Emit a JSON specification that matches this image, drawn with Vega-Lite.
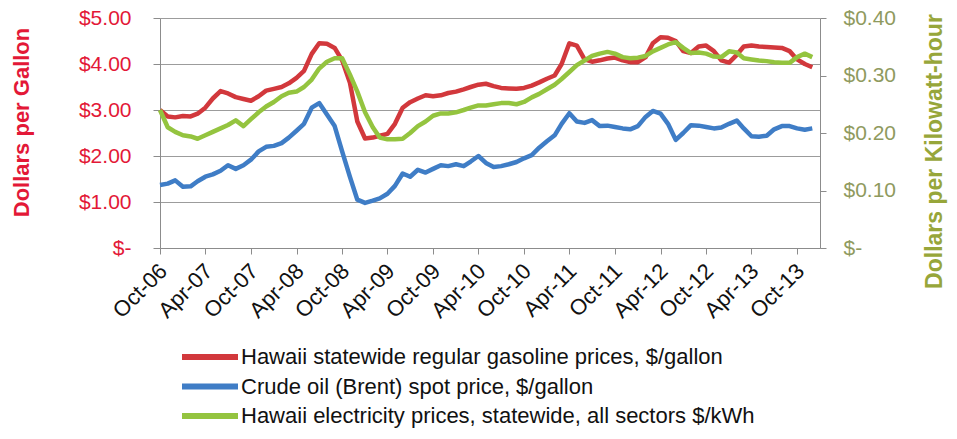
{
"$schema": "https://vega.github.io/schema/vega-lite/v6.json",
"width": 660, "height": 230,
"autosize": {"type": "none"},
"padding": {"left": 160, "top": 18, "right": 137, "bottom": 191},
"background": "white",
"config": {"view": {"stroke": null}, "font": "Liberation Sans"},
"data": {"format": {"parse": {"d": "date:'%Y-%m'"}}, "values": [
{"d":"2006-10","g":3.00,"c":1.37,"e":0.240},
{"d":"2006-11","g":2.86,"c":1.40,"e":0.210},
{"d":"2006-12","g":2.84,"c":1.47,"e":0.202},
{"d":"2007-01","g":2.87,"c":1.33,"e":0.196},
{"d":"2007-02","g":2.86,"c":1.34,"e":0.194},
{"d":"2007-03","g":2.92,"c":1.45,"e":0.190},
{"d":"2007-04","g":3.05,"c":1.55,"e":0.196},
{"d":"2007-05","g":3.25,"c":1.60,"e":0.202},
{"d":"2007-06","g":3.41,"c":1.68,"e":0.208},
{"d":"2007-07","g":3.36,"c":1.80,"e":0.214},
{"d":"2007-08","g":3.28,"c":1.72,"e":0.222},
{"d":"2007-09","g":3.24,"c":1.80,"e":0.212},
{"d":"2007-10","g":3.20,"c":1.92,"e":0.224},
{"d":"2007-11","g":3.30,"c":2.10,"e":0.236},
{"d":"2007-12","g":3.42,"c":2.20,"e":0.246},
{"d":"2008-01","g":3.46,"c":2.22,"e":0.254},
{"d":"2008-02","g":3.50,"c":2.28,"e":0.264},
{"d":"2008-03","g":3.58,"c":2.40,"e":0.270},
{"d":"2008-04","g":3.70,"c":2.55,"e":0.272},
{"d":"2008-05","g":3.85,"c":2.70,"e":0.280},
{"d":"2008-06","g":4.22,"c":3.05,"e":0.293},
{"d":"2008-07","g":4.45,"c":3.15,"e":0.312},
{"d":"2008-08","g":4.44,"c":2.90,"e":0.324},
{"d":"2008-09","g":4.35,"c":2.65,"e":0.330},
{"d":"2008-10","g":4.08,"c":2.10,"e":0.330},
{"d":"2008-11","g":3.60,"c":1.55,"e":0.302},
{"d":"2008-12","g":2.75,"c":1.05,"e":0.272},
{"d":"2009-01","g":2.38,"c":0.98,"e":0.236},
{"d":"2009-02","g":2.40,"c":1.03,"e":0.210},
{"d":"2009-03","g":2.44,"c":1.08,"e":0.192},
{"d":"2009-04","g":2.48,"c":1.18,"e":0.189},
{"d":"2009-05","g":2.70,"c":1.35,"e":0.189},
{"d":"2009-06","g":3.05,"c":1.62,"e":0.190},
{"d":"2009-07","g":3.17,"c":1.55,"e":0.200},
{"d":"2009-08","g":3.25,"c":1.70,"e":0.212},
{"d":"2009-09","g":3.32,"c":1.64,"e":0.220},
{"d":"2009-10","g":3.30,"c":1.72,"e":0.230},
{"d":"2009-11","g":3.32,"c":1.80,"e":0.234},
{"d":"2009-12","g":3.37,"c":1.78,"e":0.234},
{"d":"2010-01","g":3.40,"c":1.82,"e":0.236},
{"d":"2010-02","g":3.45,"c":1.78,"e":0.240},
{"d":"2010-03","g":3.50,"c":1.88,"e":0.244},
{"d":"2010-04","g":3.55,"c":2.00,"e":0.248},
{"d":"2010-05","g":3.57,"c":1.85,"e":0.248},
{"d":"2010-06","g":3.52,"c":1.76,"e":0.250},
{"d":"2010-07","g":3.48,"c":1.78,"e":0.252},
{"d":"2010-08","g":3.47,"c":1.82,"e":0.252},
{"d":"2010-09","g":3.46,"c":1.87,"e":0.250},
{"d":"2010-10","g":3.48,"c":1.95,"e":0.254},
{"d":"2010-11","g":3.53,"c":2.02,"e":0.262},
{"d":"2010-12","g":3.60,"c":2.18,"e":0.268},
{"d":"2011-01","g":3.68,"c":2.32,"e":0.276},
{"d":"2011-02","g":3.75,"c":2.45,"e":0.284},
{"d":"2011-03","g":4.00,"c":2.70,"e":0.294},
{"d":"2011-04","g":4.45,"c":2.93,"e":0.306},
{"d":"2011-05","g":4.40,"c":2.75,"e":0.318},
{"d":"2011-06","g":4.10,"c":2.72,"e":0.326},
{"d":"2011-07","g":4.05,"c":2.78,"e":0.334},
{"d":"2011-08","g":4.08,"c":2.65,"e":0.338},
{"d":"2011-09","g":4.12,"c":2.66,"e":0.341},
{"d":"2011-10","g":4.14,"c":2.63,"e":0.338},
{"d":"2011-11","g":4.08,"c":2.60,"e":0.332},
{"d":"2011-12","g":4.04,"c":2.58,"e":0.330},
{"d":"2012-01","g":4.04,"c":2.65,"e":0.331},
{"d":"2012-02","g":4.15,"c":2.85,"e":0.334},
{"d":"2012-03","g":4.45,"c":2.98,"e":0.342},
{"d":"2012-04","g":4.58,"c":2.92,"e":0.348},
{"d":"2012-05","g":4.57,"c":2.70,"e":0.354},
{"d":"2012-06","g":4.50,"c":2.35,"e":0.358},
{"d":"2012-07","g":4.28,"c":2.50,"e":0.348},
{"d":"2012-08","g":4.24,"c":2.67,"e":0.339},
{"d":"2012-09","g":4.38,"c":2.66,"e":0.340},
{"d":"2012-10","g":4.40,"c":2.63,"e":0.338},
{"d":"2012-11","g":4.28,"c":2.60,"e":0.333},
{"d":"2012-12","g":4.08,"c":2.62,"e":0.332},
{"d":"2013-01","g":4.03,"c":2.70,"e":0.342},
{"d":"2013-02","g":4.20,"c":2.77,"e":0.340},
{"d":"2013-03","g":4.38,"c":2.60,"e":0.330},
{"d":"2013-04","g":4.40,"c":2.43,"e":0.328},
{"d":"2013-05","g":4.38,"c":2.42,"e":0.326},
{"d":"2013-06","g":4.37,"c":2.44,"e":0.325},
{"d":"2013-07","g":4.36,"c":2.58,"e":0.323},
{"d":"2013-08","g":4.35,"c":2.65,"e":0.322},
{"d":"2013-09","g":4.28,"c":2.65,"e":0.322},
{"d":"2013-10","g":4.10,"c":2.60,"e":0.332},
{"d":"2013-11","g":4.00,"c":2.57,"e":0.338},
{"d":"2013-12","g":3.93,"c":2.60,"e":0.332}
]},
"encoding": {
 "x": {"field": "d", "type": "temporal", "title": null,
  "scale": {"domain": [{"year": 2006, "month": 10, "date": 1}, {"year": 2014, "month": 1, "date": 1}]},
  "axis": {"values": [
   {"year": 2006, "month": 10, "date": 1}, {"year": 2007, "month": 4, "date": 1},
   {"year": 2007, "month": 10, "date": 1}, {"year": 2008, "month": 4, "date": 1},
   {"year": 2008, "month": 10, "date": 1}, {"year": 2009, "month": 4, "date": 1},
   {"year": 2009, "month": 10, "date": 1}, {"year": 2010, "month": 4, "date": 1},
   {"year": 2010, "month": 10, "date": 1}, {"year": 2011, "month": 4, "date": 1},
   {"year": 2011, "month": 10, "date": 1}, {"year": 2012, "month": 4, "date": 1},
   {"year": 2012, "month": 10, "date": 1}, {"year": 2013, "month": 4, "date": 1},
   {"year": 2013, "month": 10, "date": 1}],
   "format": "%b-%y", "labelAngle": -45, "labelFontSize": 22, "labelColor": "#111111",
   "labelFont": "Liberation Sans", "tickSize": 6, "tickColor": "#8c8c8c", "domainColor": "#8c8c8c",
   "grid": false, "labelPadding": 6, "labelOffset": -4, "labelOverlap": false, "labelFlush": false}}
},
"layer": [
 {"transform": [{"fold": ["g", "c"], "as": ["s", "v"]}],
  "mark": {"type": "line", "strokeWidth": 4.5, "strokeJoin": "round"},
  "encoding": {
   "y": {"field": "v", "type": "quantitative", "scale": {"domain": [0, 5], "nice": false},
    "axis": {"orient": "left", "values": [0, 1, 2, 3, 4, 5],
     "labelExpr": "datum.value == 0 ? '$-\u00a0\u00a0' : format(datum.value, '$.2f')",
     "labelColor": "#e31837", "labelFontSize": 21, "labelFont": "Liberation Sans", "labelPadding": 22,
     "tickSize": 7, "tickColor": "#8c8c8c", "domainColor": "#8c8c8c",
     "grid": true, "gridColor": "#9c9c9c",
     "title": "Dollars per Gallon", "titleColor": "#e31837", "titleFontSize": 22, "titleFont": "Liberation Sans",
     "titleFontWeight": "bold", "titleAngle": 270, "titleX": -127, "titleY": 104}},
   "color": {"field": "s", "type": "nominal",
    "scale": {"domain": ["g", "c", "e"], "range": ["#d2383c", "#3f7dc6", "#94c43f"]},
    "legend": {"title": null, "orient": "none", "legendX": 19, "legendY": 326, "direction": "vertical",
     "symbolType": "stroke", "symbolSize": 3136, "symbolStrokeWidth": 6, "clipHeight": 26, "rowPadding": 3.5,
     "labelFontSize": 22, "labelFont": "Liberation Sans", "labelColor": "#111111", "labelLimit": 800,
     "labelOffset": 0, "padding": 0,
     "labelExpr": "{'g': 'Hawaii statewide regular gasoline prices, $/gallon', 'c': 'Crude oil (Brent) spot price, $/gallon', 'e': 'Hawaii electricity prices, statewide, all sectors $/kWh'}[datum.value]"}}
  }},
 {"transform": [{"fold": ["e"], "as": ["s", "v"]}],
  "mark": {"type": "line", "strokeWidth": 4.5, "strokeJoin": "round"},
  "encoding": {
   "y": {"field": "v", "type": "quantitative", "scale": {"domain": [0, 0.4], "nice": false},
    "axis": {"orient": "right", "values": [0, 0.1, 0.2, 0.3, 0.4],
     "labelExpr": "datum.value == 0 ? '$-' : format(datum.value, '$.2f')",
     "labelColor": "#8f9a5e", "labelFontSize": 21, "labelFont": "Liberation Sans", "labelPadding": 17,
     "tickSize": 6, "tickColor": "#8c8c8c", "domainColor": "#8c8c8c", "grid": false,
     "title": "Dollars per Kilowatt-hour", "titleColor": "#97a63a", "titleFontSize": 23, "titleFont": "Liberation Sans",
     "titleFontWeight": "bold", "titleAngle": 270, "titleX": 126, "titleY": 133}},
   "color": {"field": "s", "type": "nominal",
    "scale": {"domain": ["g", "c", "e"], "range": ["#d2383c", "#3f7dc6", "#94c43f"]},
    "legend": {"title": null, "orient": "none", "legendX": 19, "legendY": 326, "direction": "vertical",
     "symbolType": "stroke", "symbolSize": 3136, "symbolStrokeWidth": 6, "clipHeight": 26, "rowPadding": 3.5,
     "labelFontSize": 22, "labelFont": "Liberation Sans", "labelColor": "#111111", "labelLimit": 800,
     "labelOffset": 0, "padding": 0,
     "labelExpr": "{'g': 'Hawaii statewide regular gasoline prices, $/gallon', 'c': 'Crude oil (Brent) spot price, $/gallon', 'e': 'Hawaii electricity prices, statewide, all sectors $/kWh'}[datum.value]"}}
  }}
],
"resolve": {"scale": {"y": "independent"}}
}
